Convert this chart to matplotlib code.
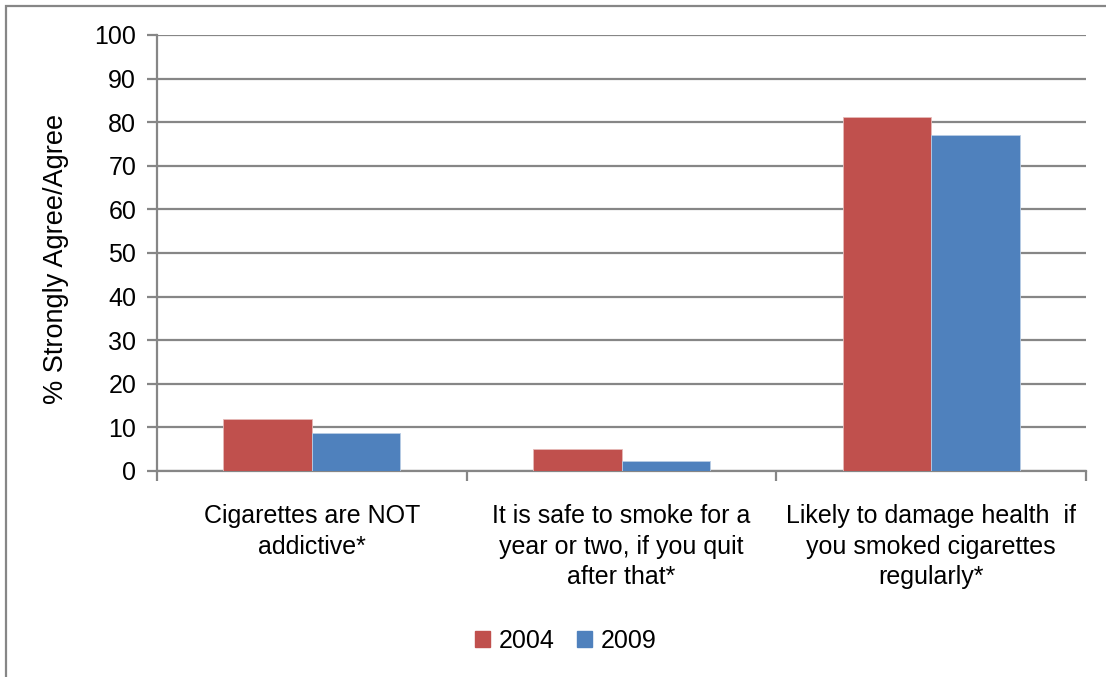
import matplotlib
matplotlib.use("Agg")
import matplotlib.pyplot as plt
from matplotlib.patches import Rectangle, Patch
import numpy as np

categories = [
    "Cigarettes are NOT\naddictive*",
    "It is safe to smoke for a\nyear or two, if you quit\nafter that*",
    "Likely to damage health  if\nyou smoked cigarettes\nregularly*",
]
series_names = ["2004", "2009"]
values_2004 = [12.0, 5.0, 81.2]
values_2009 = [8.7, 2.3, 77.1]
y_ticks = [0, 10, 20, 30, 40, 50, 60, 70, 80, 90, 100]

red = "#C0504D"
blue = "#4F81BD"
gray = "#868686"
fs = 18

plt.rcParams["font.family"] = ["Liberation Sans", "DejaVu Sans"]

fig = plt.figure(figsize=(11.06, 6.77), dpi=100)
ax = fig.add_axes([157 / 1106, 1 - 471 / 677, (1086 - 157) / 1106, (471 - 35) / 677])

x = np.arange(len(categories))
width = 0.286
ax.bar(x - width / 2, values_2004, width, color=red, edgecolor="#E6B9B8",
       linewidth=0.6, zorder=3, label=series_names[0])
ax.bar(x + width / 2, values_2009, width, color=blue, edgecolor="#B9CDE5",
       linewidth=0.6, zorder=3, label=series_names[1])

ax.set_xlim(-0.5, len(categories) - 0.5)
ax.set_ylim(0, 100)
ax.set_yticks(y_ticks)
ax.set_yticklabels([str(t) for t in y_ticks], fontsize=fs)
ax.yaxis.grid(True, color=gray, linewidth=1.6, zorder=0)
ax.set_axisbelow(True)

# category boundaries carry the ticks, labels sit at group centres
ax.set_xticks(np.arange(len(categories) + 1) - 0.5)
ax.set_xticklabels([])
ax.set_xticks(x, minor=True)
ax.set_xticklabels(categories, minor=True, fontsize=fs, linespacing=1.34)
ax.tick_params(axis="x", which="minor", length=0, pad=24)
ax.tick_params(axis="x", which="major", length=7, width=1.6, color=gray)
ax.tick_params(axis="y", length=7, width=1.6, color=gray, pad=8)

for side in ["top", "right"]:
    ax.spines[side].set_visible(False)
for side in ["left", "bottom"]:
    ax.spines[side].set_color(gray)
    ax.spines[side].set_linewidth(1.6)

ax.set_ylabel("% Strongly Agree/Agree", fontsize=19.5)
ax.yaxis.set_label_coords(-0.095, 0.487)

handles = [Patch(facecolor=red, edgecolor=red), Patch(facecolor=blue, edgecolor=blue)]
fig.legend(handles, series_names, loc="center", bbox_to_anchor=(566 / 1106, 1 - 641 / 677),
           ncol=2, frameon=False, fontsize=fs, handlelength=0.6, handleheight=0.6,
           handletextpad=0.35, columnspacing=0.9)

# outer chart frame
fig.patches.append(Rectangle((6 / 1106, -0.05), 1.2, 1 - 6 / 677 + 0.05,
                             transform=fig.transFigure, fill=False,
                             edgecolor=gray, linewidth=1.6))

fig.savefig("out.png", dpi=100)
